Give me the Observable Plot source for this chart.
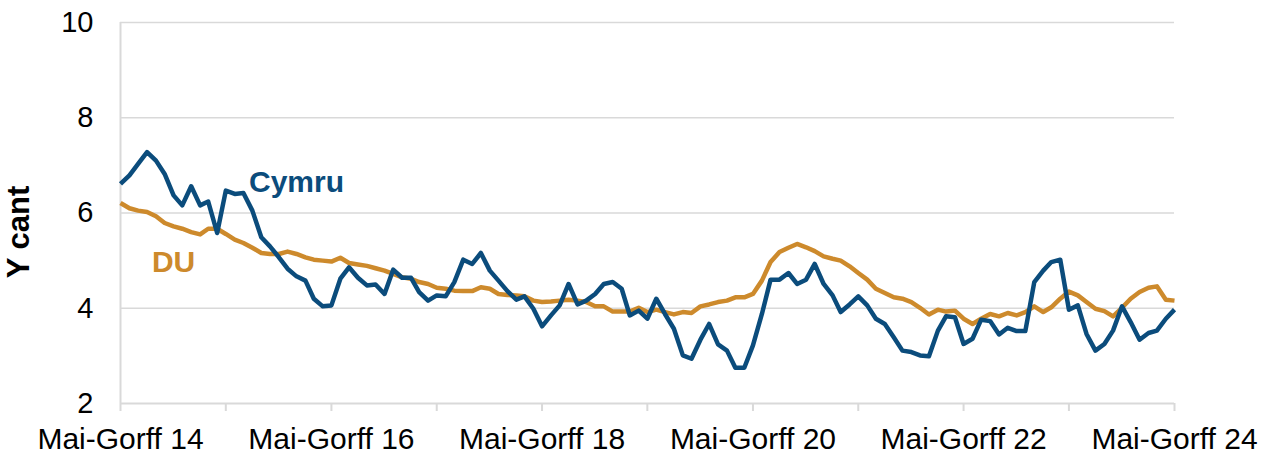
<!DOCTYPE html>
<html>
<head>
<meta charset="utf-8">
<script src="https://cdn.jsdelivr.net/npm/d3@7"></script>
<script src="https://cdn.jsdelivr.net/npm/@observablehq/plot@0.6"></script>
<style>
  html, body { margin: 0; padding: 0; background: #fff; }
  #chart { width: 1271px; height: 455px; }
</style>
</head>
<body>
<div id="chart"></div>
<script>
// Rolling three-month periods, May-Jul 2014 to May-Jul 2024
const periods = d3.utcMonths(new Date(Date.UTC(2014, 4, 1)), new Date(Date.UTC(2024, 5, 1)));

const cymru = [
  6.61, 6.79, 7.03, 7.28, 7.10, 6.82, 6.37, 6.16, 6.56, 6.16, 6.24, 5.58,
  6.47, 6.40, 6.42, 6.05, 5.49, 5.30, 5.07, 4.83, 4.67, 4.58, 4.20, 4.04,
  4.06, 4.62, 4.86, 4.64, 4.48, 4.50, 4.30, 4.81, 4.64, 4.64, 4.34, 4.16,
  4.27, 4.25, 4.55, 5.02, 4.93, 5.16, 4.79, 4.58, 4.36, 4.18, 4.25, 3.99,
  3.62, 3.85, 4.06, 4.51, 4.08, 4.16, 4.30, 4.51, 4.55, 4.41, 3.85, 3.95,
  3.78, 4.20, 3.88, 3.57, 3.01, 2.94, 3.34, 3.67, 3.24, 3.11, 2.75, 2.75,
  3.22, 3.88, 4.60, 4.60, 4.74, 4.51, 4.60, 4.93, 4.51, 4.27, 3.92, 4.08,
  4.25, 4.06, 3.78, 3.67, 3.39, 3.11, 3.08, 3.01, 2.99, 3.53, 3.83, 3.81,
  3.25, 3.36, 3.76, 3.73, 3.45, 3.59, 3.52, 3.52, 4.55, 4.79, 4.97, 5.02,
  3.97, 4.06, 3.46, 3.11, 3.25, 3.53, 4.04, 3.71, 3.34, 3.48, 3.53, 3.78,
  3.97
];

const du = [
  6.21, 6.10, 6.05, 6.02, 5.93, 5.79, 5.72, 5.67, 5.60, 5.55, 5.67, 5.67,
  5.56, 5.44, 5.37, 5.27, 5.16, 5.14, 5.14, 5.19, 5.14, 5.07, 5.02, 5.00,
  4.98, 5.06, 4.95, 4.92, 4.89, 4.84, 4.79, 4.72, 4.65, 4.62, 4.55, 4.51,
  4.43, 4.41, 4.37, 4.36, 4.36, 4.44, 4.41, 4.30, 4.28, 4.27, 4.25, 4.16,
  4.13, 4.14, 4.16, 4.18, 4.16, 4.13, 4.04, 4.04, 3.93, 3.93, 3.93, 4.01,
  3.92, 3.97, 3.92, 3.87, 3.92, 3.90, 4.04, 4.08, 4.13, 4.16, 4.23, 4.23,
  4.30, 4.58, 4.97, 5.18, 5.27, 5.35, 5.28, 5.20, 5.09, 5.04, 5.00, 4.88,
  4.74, 4.60, 4.41, 4.32, 4.23, 4.20, 4.13, 4.01, 3.87, 3.97, 3.93, 3.95,
  3.78, 3.67, 3.78, 3.88, 3.83, 3.90, 3.85, 3.92, 4.04, 3.92, 4.02, 4.20,
  4.35, 4.27, 4.13, 3.99, 3.94, 3.83, 4.01, 4.20, 4.34, 4.43, 4.46, 4.18,
  4.16
];

const seriesNames = ["Cymru", "DU"];
const seriesColors = ["#0b4c7c", "#cd8a2c"];

// yearly tick marks; labels every second year
const xTickLabels = ["Mai-Gorff 14", "", "Mai-Gorff 16", "", "Mai-Gorff 18", "",
  "Mai-Gorff 20", "", "Mai-Gorff 22", "", "Mai-Gorff 24"];
const xTicks = periods.filter(d => d.getUTCMonth() === 4);

const yTicks = [2, 4, 6, 8, 10];
const yLabel = "Y cant";

// annotation anchors (data space)
const annotations = [
  {name: "Cymru", period: periods[20], value: 6.64},
  {name: "DU", period: periods[6], value: 4.96}
];

const rows = [];
periods.forEach((p, i) => {
  rows.push({series: "DU", period: p, value: du[i]});
});
periods.forEach((p, i) => {
  rows.push({series: "Cymru", period: p, value: cymru[i]});
});

const colorOf = s => seriesColors[seriesNames.indexOf(s)];

const chart = Plot.plot({
  width: 1271,
  height: 455,
  marginTop: 22,
  marginBottom: 52,
  marginLeft: 120,
  marginRight: 97,
  style: {fontFamily: "'Liberation Sans', Arial, sans-serif", fontSize: "30px", color: "#000", background: "#fff"},
  x: {type: "utc", domain: [periods[0], periods[periods.length - 1]]},
  y: {domain: [2, 10]},
  marks: [
    Plot.ruleY(yTicks.filter(v => v > 2), {stroke: "#d9d9d9", strokeWidth: 1.5}),
    Plot.ruleX([periods[0]], {y1: 2, y2: 10, stroke: "#d9d9d9", strokeWidth: 2}),
    Plot.ruleY([2], {stroke: "#d9d9d9", strokeWidth: 2}),
    Plot.axisX({
      ticks: xTicks,
      tickSize: 8,
      tickPadding: 16,
      stroke: "#d9d9d9",
      strokeWidth: 2,
      fill: "#000",
      strokeOpacity: 1,
      tickFormat: (d) => xTickLabels[xTicks.findIndex(t => +t === +d)],
      label: null
    }),
    Plot.axisY({
      ticks: yTicks,
      tickSize: 0,
      tickPadding: 27,
      fill: "#000",
      fontSize: 29,
      label: yLabel,
      labelArrow: "none",
      labelAnchor: "center",
      labelOffset: 114
    }),
    Plot.line(rows, {
      x: "period", y: "value", z: "series",
      stroke: d => colorOf(d.series),
      strokeWidth: 4.5, strokeLinejoin: "round", strokeLinecap: "butt"
    }),
    Plot.text(annotations, {
      x: "period", y: "value", text: "name",
      fill: d => colorOf(d.name),
      fontWeight: "bold", fontSize: 30
    })
  ]
});

// bold y-axis label, nudged down slightly like the reference
d3.select(chart).selectAll("g[aria-label='y-axis label'] text")
  .style("font-weight", "bold")
  .style("font-size", "31px")
  .attr("dx", "-19");

document.getElementById("chart").appendChild(chart);
</script>
</body>
</html>
